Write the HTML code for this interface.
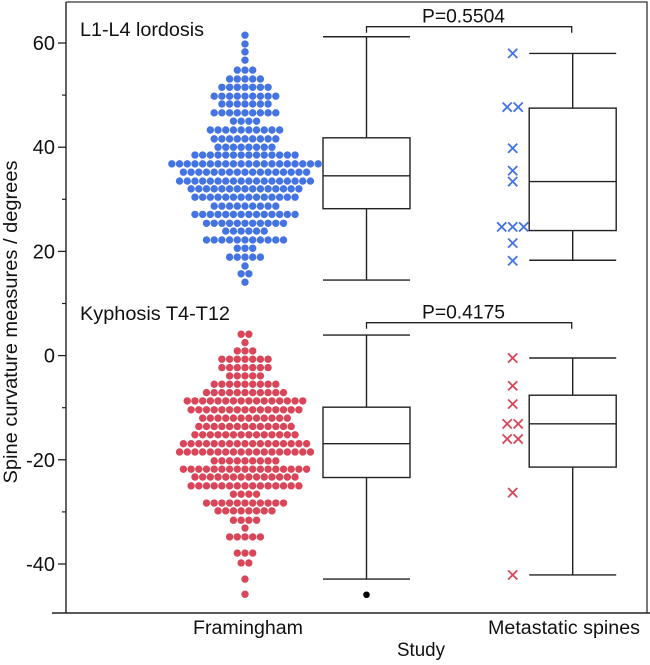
<!DOCTYPE html>
<html><head><meta charset="utf-8"><style>
body{margin:0;background:#fff}
svg{display:block;font-family:"Liberation Sans",Arial,sans-serif}
</style></head><body>
<svg id="chart" width="650" height="665">
<g id="frame"></g>
<g id="yaxis"></g>
<g id="marks"></g>
<text x="80" y="36" font-size="19.5" textLength="124" lengthAdjust="spacingAndGlyphs" fill="#111">L1-L4 lordosis</text>
<text x="80" y="320" font-size="19.5" textLength="150" lengthAdjust="spacingAndGlyphs" fill="#111">Kyphosis T4-T12</text>
<text x="193" y="634" font-size="19" textLength="110" lengthAdjust="spacingAndGlyphs" fill="#111">Framingham</text>
<text x="488" y="634" font-size="19" textLength="152" lengthAdjust="spacingAndGlyphs" fill="#111">Metastatic spines</text>
<text x="397" y="656" font-size="19" textLength="48" lengthAdjust="spacingAndGlyphs" fill="#111">Study</text>
<text transform="translate(17,322) rotate(-90)" font-size="19" text-anchor="middle" textLength="323" lengthAdjust="spacingAndGlyphs" fill="#111">Spine curvature measures / degrees</text>
</svg>
<script>
// Data
const yTicks=[60,40,20,0,-20,-40];
const yMinorTicks=[50,30,10,-10,-30];
const lordRowVals=[61.5,59.8,58.3,56.7,54.8,53.1,51.5,49.8,48.3,46.6,45.0,43.3,41.6,40.0,38.5,36.8,35.2,33.5,32.0,30.4,28.7,27.1,25.4,23.9,22.2,20.6,18.9,17.2,15.7,14.1];
const lordRowCounts=[1,1,1,1,3,5,7,9,7,9,4,10,9,8,14,20,17,18,15,14,9,14,11,6,11,3,5,1,2,1];
const kyphRowVals=[4.1,2.5,0.9,-0.7,-2.3,-3.9,-5.5,-7.1,-8.7,-10.4,-12.0,-13.6,-15.2,-16.9,-18.5,-20.2,-21.8,-23.3,-25.0,-26.6,-28.3,-29.8,-31.6,-33.1,-34.8,-37.9,-39.8,-42.9,-45.8];
const kyphRowCounts=[2,1,3,7,7,5,9,11,16,15,12,13,14,17,18,9,17,14,15,4,11,8,4,1,5,3,2,1,1];
const lordBoxFram=[14.5,28.2,34.5,41.8,61.2];
const lordBoxMeta=[18.3,24.0,33.4,47.5,58.0];
const kyphBoxFram=[-42.9,-23.4,-16.9,-9.9,3.95];
const kyphBoxMeta=[-42.1,-21.4,-13.1,-7.6,-0.46];
const kyphOutliers=[-45.9];
const lordMeta=[58.0,47.7,47.7,39.8,35.5,33.4,24.7,24.7,24.7,21.6,18.2];
const kyphMeta=[-0.46,-5.8,-9.3,-13.1,-13.1,-16.0,-16.0,-26.3,-42.1];
const pLabels=["P=0.5504","P=0.4175"];

const NS="http://www.w3.org/2000/svg";
const Y0=355.6,K=5.21;
const y=v=>Y0-v*K;
const XF=245,XBF=366.5,XBM=572.7,XM=512.7,BW=87,CAP=87,DS=7.7;
function mk(tag,attrs,parent){const e=document.createElementNS(NS,tag);for(const k in attrs)e.setAttribute(k,attrs[k]);parent.appendChild(e);return e;}
const frame=document.getElementById('frame'),ax=document.getElementById('yaxis'),marks=document.getElementById('marks');
let e;
e=mk('path',{d:'M66,2H647V613',fill:'none',stroke:'#333','stroke-width':1.3},frame);


e=mk('line',{x1:66,y1:2,x2:66,y2:613,stroke:'#222','stroke-width':1.4},ax);


e=mk('line',{x1:52,y1:613,x2:650,y2:613,stroke:'#222','stroke-width':1.4},frame);


yTicks.forEach(t=>{
  e=mk('line',{x1:58,x2:66,y1:y(t),y2:y(t),stroke:'#222','stroke-width':1.3},ax);
  
  
  e=mk('text',{x:55,y:y(t)+7,'font-size':20,'text-anchor':'end',fill:'#111'},ax);e.textContent=t;
  
  
});
yMinorTicks.forEach(t=>{
  e=mk('line',{x1:62,x2:66,y1:y(t),y2:y(t),stroke:'#222','stroke-width':1.2},ax);
  
  
});
function swarm(vals,counts,color,name){
  vals.forEach((v,i)=>{const n=counts[i];for(let j=0;j<n;j++){
    e=mk('circle',{cx:XF+(j-(n-1)/2)*DS,cy:y(v),r:3.7,fill:color},marks);
    
    
  }});
}
swarm(lordRowVals,lordRowCounts,'#4473e2','lordosis-dot');
swarm(kyphRowVals,kyphRowCounts,'#da4659','kyphosis-dot');
function box(s,cx,name){
  const g=mk('g',{stroke:'#222','stroke-width':1.4,fill:'none'},marks);
  
  
  mk('line',{x1:cx-CAP/2,x2:cx+CAP/2,y1:y(s[0]),y2:y(s[0])},g);
  mk('line',{x1:cx-CAP/2,x2:cx+CAP/2,y1:y(s[4]),y2:y(s[4])},g);
  mk('line',{x1:cx,x2:cx,y1:y(s[0]),y2:y(s[1])},g);
  mk('line',{x1:cx,x2:cx,y1:y(s[3]),y2:y(s[4])},g);
  mk('rect',{x:cx-BW/2,y:y(s[3]),width:BW,height:y(s[1])-y(s[3]),fill:'#fff'},g);
  mk('line',{x1:cx-BW/2,x2:cx+BW/2,y1:y(s[2]),y2:y(s[2])},g);
}
box(lordBoxFram,XBF,'box-lordosis-framingham');
box(lordBoxMeta,XBM,'box-lordosis-metastatic');
box(kyphBoxFram,XBF,'box-kyphosis-framingham');
box(kyphBoxMeta,XBM,'box-kyphosis-metastatic');
kyphOutliers.forEach(v=>{
  e=mk('circle',{cx:XBF,cy:y(v),r:3.3,fill:'#000'},marks);
  
  
});
function crosses(vals,color,name){
  const cnt={};vals.forEach(v=>cnt[v]=(cnt[v]||0)+1);
  const seen={};
  vals.forEach(v=>{const n=cnt[v];const j=seen[v]=(seen[v]===undefined?0:seen[v]+1);
    const cx=XM+(j-(n-1)/2)*11,cy=y(v),h=4.6;
    e=mk('path',{d:`M${cx-h},${cy-h}L${cx+h},${cy+h}M${cx-h},${cy+h}L${cx+h},${cy-h}`,stroke:color,'stroke-width':1.8,fill:'none'},marks);
    
    
  });
}
crosses(lordMeta,'#4473e2','lordosis-metastatic-cross');
crosses(kyphMeta,'#da4659','kyphosis-metastatic-cross');
function bracket(yy,label){
  e=mk('path',{d:`M${XBF},${yy+6}V${yy}H${XBM-1}V${yy+6}`,stroke:'#222','stroke-width':1.3,fill:'none'},marks);
  
  
  e=mk('text',{x:422,y:yy-4,'font-size':19,textLength:83,lengthAdjust:'spacingAndGlyphs',fill:'#111'},marks);e.textContent=label;
  
  
}
bracket(26.7,pLabels[0]);
bracket(322.7,pLabels[1]);
</script>
</body></html>
